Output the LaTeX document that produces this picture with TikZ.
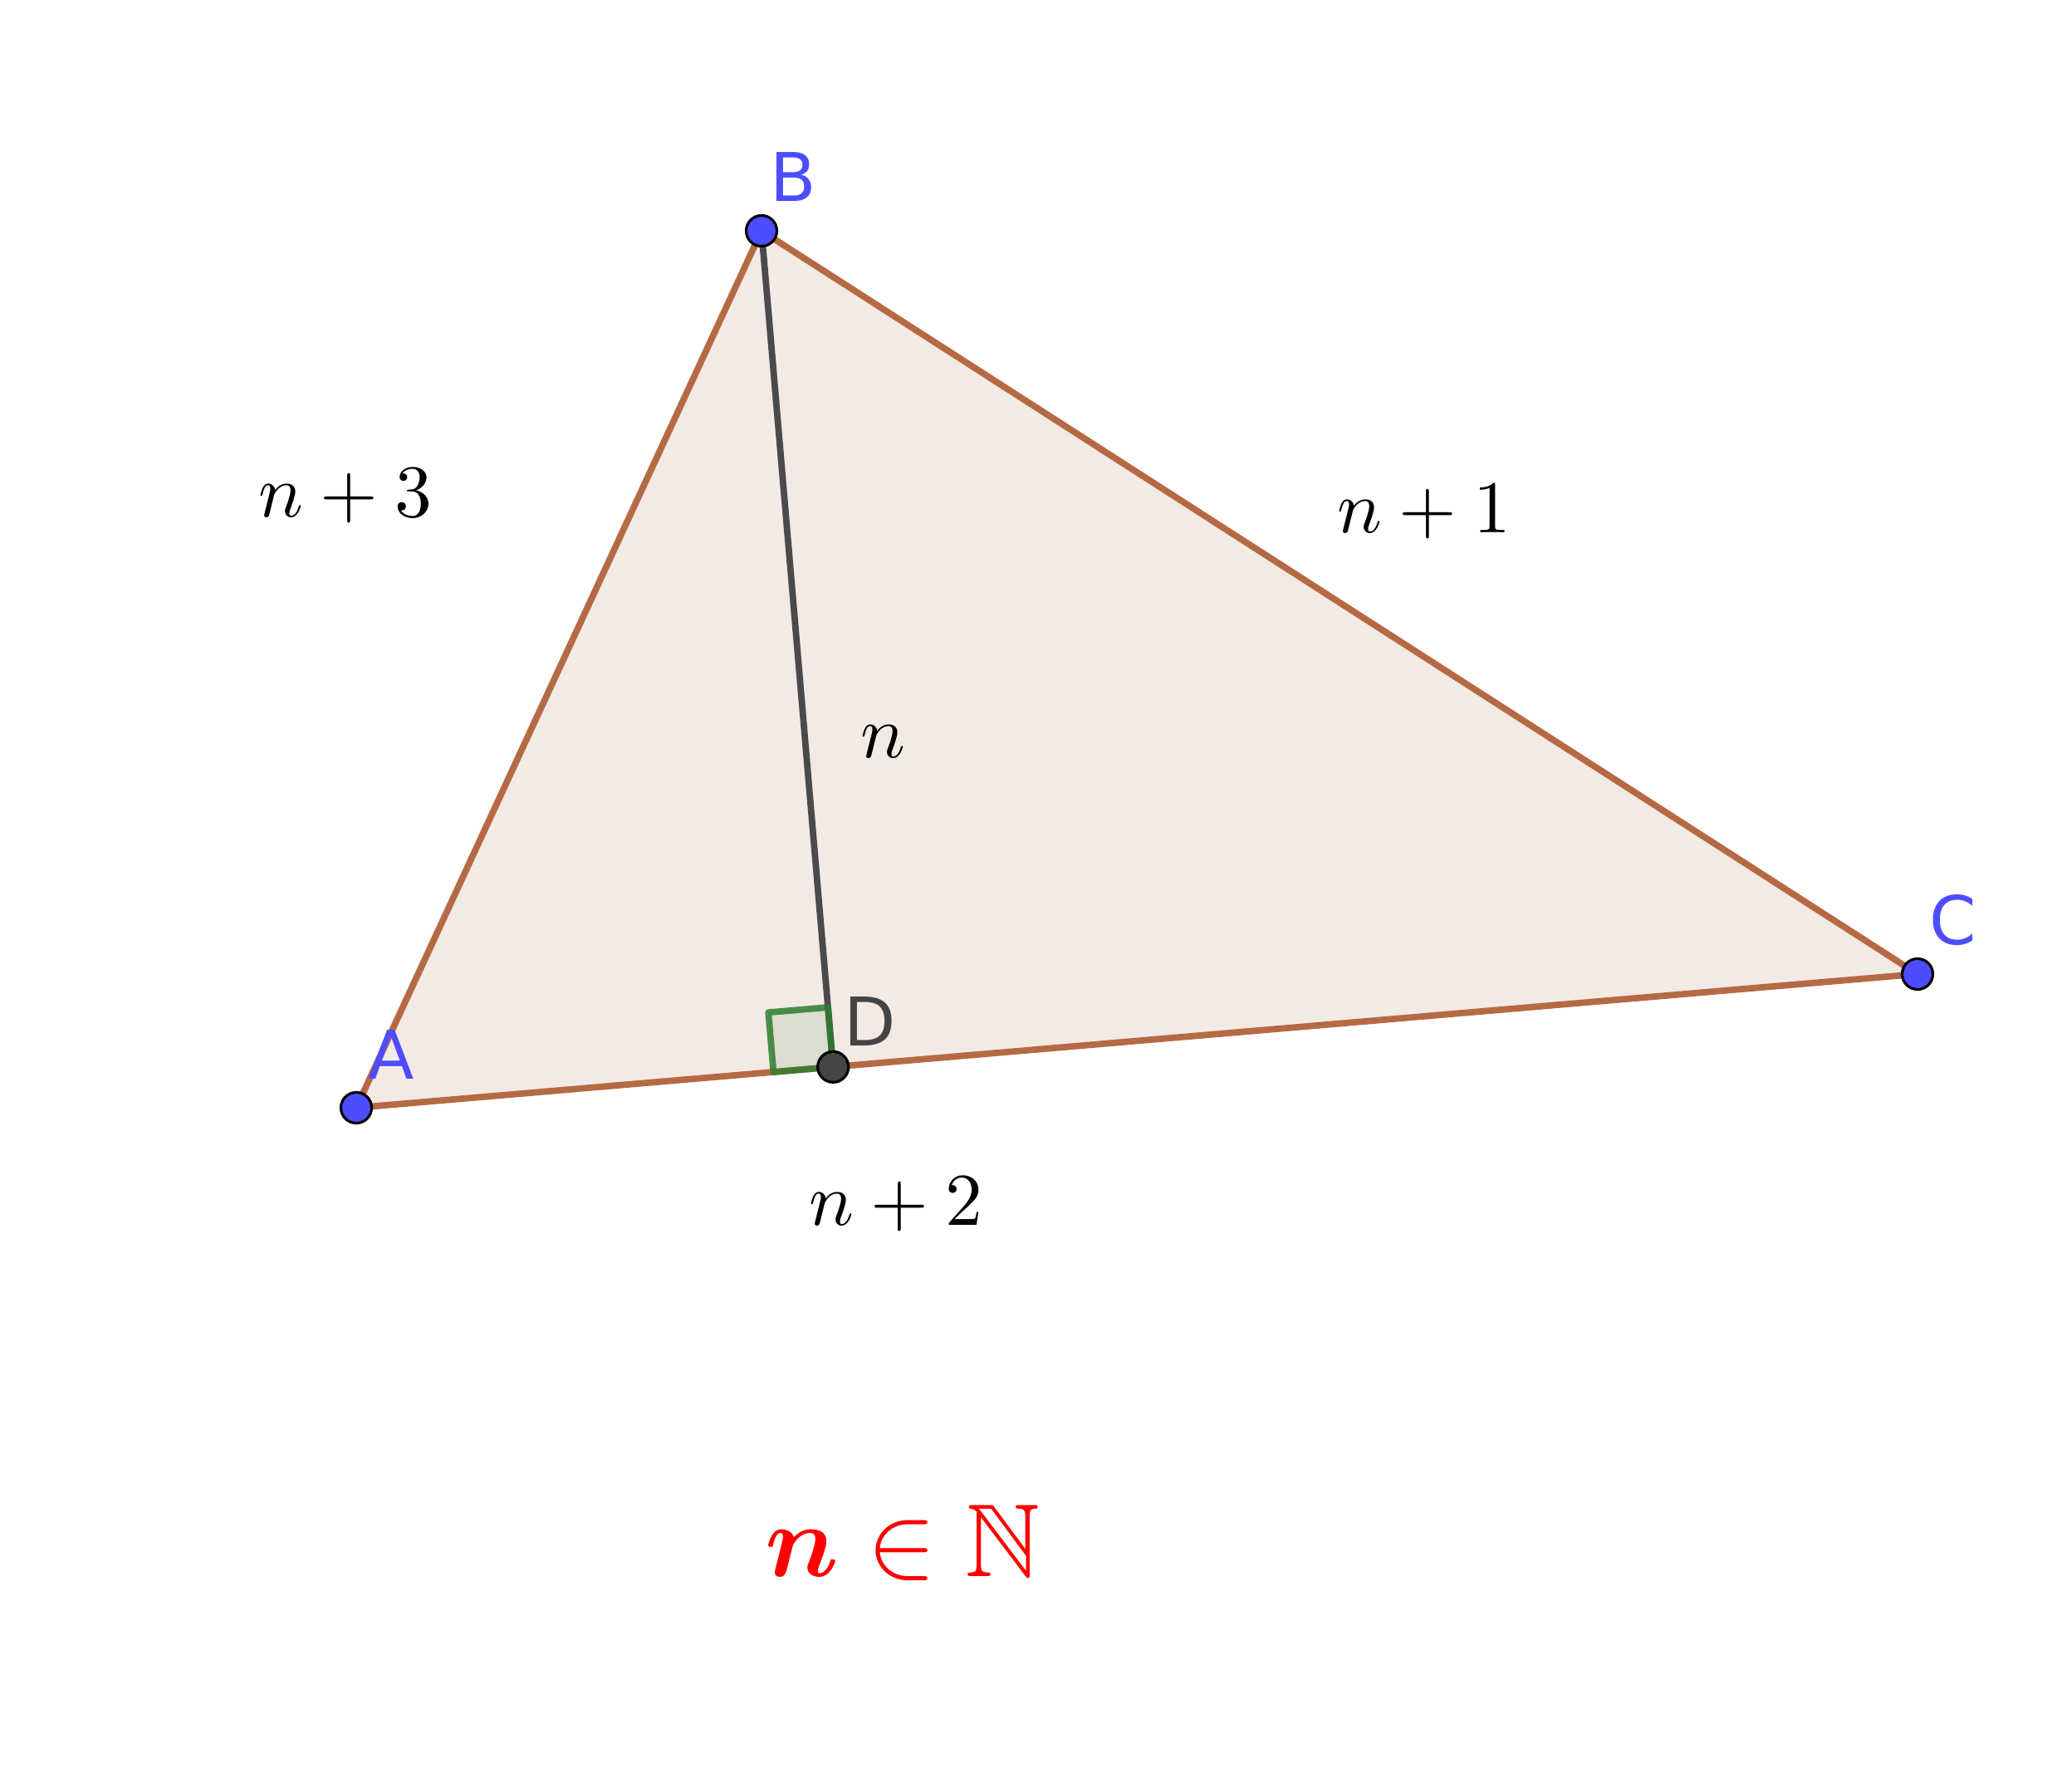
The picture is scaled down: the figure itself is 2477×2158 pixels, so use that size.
\documentclass[tikz,border=0pt]{standalone}
\usepackage{fontspec}
\usepackage{amsmath,amssymb,bm}
\usepackage{graphicx}
\usepackage{tikz}
\usetikzlibrary{calc}
\setsansfont{DejaVu Sans}
\definecolor{sidebrown}{HTML}{B66A44}
\definecolor{trifill}{HTML}{F3EAE5}
\definecolor{ptblue}{HTML}{4D4DFF}
\definecolor{altgray}{HTML}{4A4A4A}
\definecolor{rightgreen}{HTML}{2E7D2E}
\definecolor{rightfill}{HTML}{DCDCCF}
\definecolor{darkpt}{HTML}{444444}
\newcommand{\sidemath}[1]{\scalebox{2.55}{$#1$}}

\begin{document}
\begin{tikzpicture}[x=0.01cm, y=-0.01cm,
    side/.style={draw=sidebrown, line width=2.2pt, line join=round},
    height/.style={draw=altgray, line width=2.2pt},
    ptdot/.style={circle, draw=black, line width=0.9pt, fill=ptblue, minimum size=0.37cm, inner sep=0pt},
    ptname/.style={inner sep=0pt, text=ptblue, font=\sffamily\fontsize{23}{28}\selectfont},
    sidelabel/.style={inner sep=0pt}]
    \useasboundingbox (0,0) rectangle (2477,2158);

    % vertices
    \coordinate (A) at (429,1334);
    \coordinate (B) at (917,278);
    \coordinate (C) at (2309,1173);
    \coordinate (D) at ($(A)!(B)!(C)$);

    \fill[trifill] (A) -- (B) -- (C) -- cycle;

    % right angle at D
    \coordinate (DA) at ($(D)!0.72cm!(A)$);
    \coordinate (DB) at ($(D)!0.72cm!(B)$);
    \fill[rightfill] (D) -- (DA) -- ($(DA)+(DB)-(D)$) -- (DB) -- cycle;

    \draw[side] (A) -- (B) -- (C) -- cycle;
    \draw[height] (B) -- (D);
    \draw[rightgreen, draw opacity=0.85, line width=2.2pt, line join=round]
      (D) -- (DA) -- ($(DA)+(DB)-(D)$) -- (DB) -- cycle;

    \node[ptdot] (a) at (A) {};
    \node[ptdot] (b) at (B) {};
    \node[ptdot] (c) at (C) {};
    \node[ptdot, fill=darkpt] (d) at (D) {};

    \node[ptname] (la) at (471,1270) {A};
    \node[ptname] (lb) at (955,213) {B};
    \node[ptname] (lc) at (2352,1108) {C};
    \node[ptname, text=darkpt] (ld) at (1048,1230) {D};

    \node[sidelabel] (ab) at (416,597) {\sidemath{n+3}};
    \node[sidelabel] (bc) at (1715,616) {\sidemath{n+1}};
    \node[sidelabel] (bd) at (1063,893) {\sidemath{n}};
    \node[sidelabel] (ac) at (1079,1450) {\sidemath{n+2}};

    \node[inner sep=0pt, text=red] (nat) at (1087,1858) {\scalebox{3.55}{$\boldsymbol{n}\in\mathbb{N}$}};
\end{tikzpicture}
\end{document}
